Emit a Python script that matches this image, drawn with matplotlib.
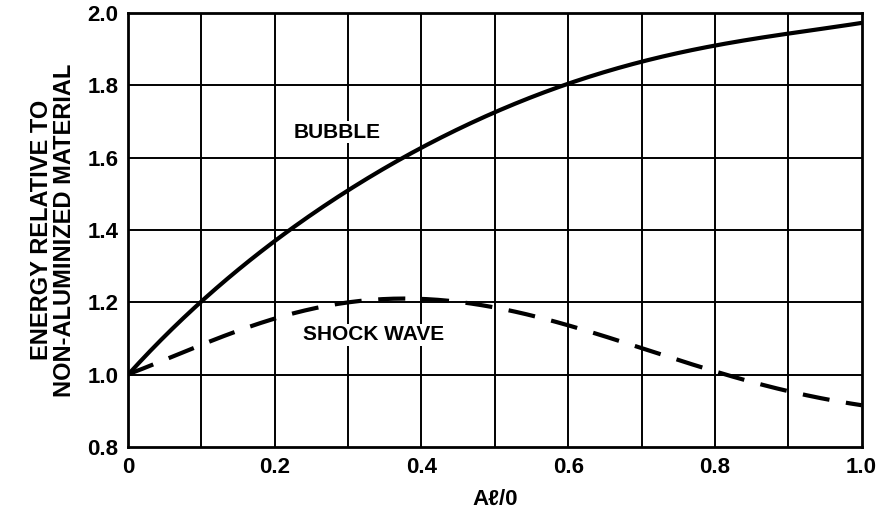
import numpy as np
import matplotlib
matplotlib.use("Agg")
from matplotlib import pyplot as plt

# values
al_ratio = [0.0, 0.1, 0.2, 0.3, 0.4, 0.5, 0.6, 0.7, 0.8, 0.9, 1.0]
bubble = [1.0, 1.20, 1.375, 1.505, 1.625, 1.73, 1.805, 1.862, 1.91, 1.944, 1.972]
shock_wave = [1.0, 1.085, 1.155, 1.195, 1.21, 1.192, 1.135, 1.068, 1.012, 0.955, 0.915]
x_ticks = [0, 0.2, 0.4, 0.6, 0.8, 1.0]
x_labels = ["0", "0.2", "0.4", "0.6", "0.8", "1.0"]
y_ticks = [0.8, 1.0, 1.2, 1.4, 1.6, 1.8, 2.0]

plt.rcParams['font.family'] = ['Liberation Sans', 'DejaVu Sans']
plt.rcParams['font.weight'] = 'bold'

fig = plt.figure(figsize=(8.81, 5.17), dpi=100)
ax = fig.add_axes([0.1453, 0.1354, 0.8327, 0.8396])

# grid: every 0.1 in x, every 0.2 in y
for gx in np.arange(0.1, 1.0, 0.1):
    ax.axvline(gx, color='black', lw=1.4, zorder=1)
for gy in y_ticks[1:-1]:
    ax.axhline(gy, color='black', lw=1.4, zorder=1)

# smooth curves through the read points
xs = np.linspace(0, 1, 200)
def smooth(xp, yp):
    c = np.polyfit(xp, yp, 5)
    return np.polyval(c, xs)

ax.plot(xs, smooth(al_ratio, bubble), color='black', lw=3, zorder=3,
        solid_capstyle='round')
ax.plot(xs, smooth(al_ratio, shock_wave), color='black', lw=3, zorder=3,
        dashes=(6.5, 4))

ax.text(0.285, 1.67, "BUBBLE", fontsize=15, fontweight='bold', ha='center', va='center',
        bbox=dict(facecolor='white', edgecolor='none', pad=1))
ax.text(0.335, 1.11, "SHOCK WAVE", fontsize=15, fontweight='bold', ha='center', va='center',
        bbox=dict(facecolor='white', edgecolor='none', pad=1))

ax.set_xlim(0, 1.0)
ax.set_ylim(0.8, 2.0)
ax.set_xticks(x_ticks)
ax.set_xticklabels(x_labels)
ax.set_yticks(y_ticks)
ax.set_yticklabels(["%.1f" % v for v in y_ticks])
ax.tick_params(length=0, labelsize=16, pad=7)
for lab in ax.get_xticklabels() + ax.get_yticklabels():
    lab.set_fontweight('bold')
for s in ax.spines.values():
    s.set_linewidth(2)

ax.set_xlabel("A\u2113/0", fontsize=16, fontweight='bold', labelpad=8)
ax.set_ylabel("ENERGY RELATIVE TO\nNON-ALUMINIZED MATERIAL", fontsize=17,
              fontweight='bold', labelpad=8, linespacing=1.0)

fig.savefig("out.png", dpi=100)
